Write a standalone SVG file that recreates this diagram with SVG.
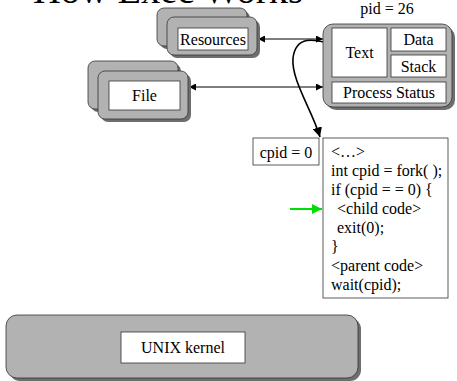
<svg xmlns="http://www.w3.org/2000/svg" width="457" height="381" viewBox="0 0 457 381">
  <style>
    text { font-family: "Liberation Serif", "Times New Roman", serif; font-size: 16px; fill: #000; }
    .mid { text-anchor: middle; }
    .panel { fill: #b2b2b2; stroke: #333; stroke-width: 0.8; }
    .shadow { fill: #6e6e6e; }
    .cell { fill: #fff; stroke: #333; stroke-width: 0.8; }
    .wire { fill: none; stroke: #000; stroke-width: 1; }
    .curve { fill: none; stroke: #000; stroke-width: 1.6; }
    .green { fill: none; stroke: #00e000; stroke-width: 2; }
  </style>
  <defs>
    <marker id="head" viewBox="0 0 10 10" refX="10" refY="5" markerWidth="7" markerHeight="7" orient="auto-start-reverse" markerUnits="userSpaceOnUse">
      <path d="M0,0 L10,5 L0,10 z" fill="#000"/>
    </marker>
    <marker id="headBig" viewBox="0 0 10 10" refX="10" refY="5" markerWidth="6" markerHeight="6" orient="auto" markerUnits="strokeWidth">
      <path d="M0,0 L10,5 L0,10 z" fill="#000"/>
    </marker>
    <marker id="headGreen" viewBox="0 0 10 10" refX="10" refY="5" markerWidth="5" markerHeight="5" orient="auto" markerUnits="strokeWidth">
      <path d="M0,0 L10,5 L0,10 z" fill="#00e000"/>
    </marker>
  </defs>

  <!-- title, mostly above the visible area -->
  <text id="title" x="33" y="3" style="font-size:38.5px">How Exec Works</text>

  <!-- connectors -->
  <g id="connectors">
    <line class="wire" x1="258" y1="39" x2="323" y2="39" marker-start="url(#head)" marker-end="url(#head)"/>
    <line class="wire" x1="189" y1="87" x2="323" y2="87" marker-start="url(#head)" marker-end="url(#head)"/>
    <path class="curve" d="M332,44 C314,39 296,35 293,58 C291,80 312,110 320,137" marker-end="url(#headBig)"/>
    <line class="green" x1="290" y1="209" x2="322" y2="209" marker-end="url(#headGreen)"/>
  </g>

  <!-- resources (stacked) -->
  <g id="resources">
    <rect class="shadow" x="160" y="11" width="90" height="38" rx="7"/>
    <rect class="panel" x="157" y="8" width="90" height="38" rx="7"/>
    <rect class="shadow" x="170" y="20" width="90" height="38" rx="7"/>
    <rect class="panel" x="167" y="17" width="90" height="38" rx="7"/>
    <rect class="cell" x="178" y="28" width="70" height="22"/>
    <text class="mid" x="213" y="45">Resources</text>
  </g>

  <!-- file (stacked) -->
  <g id="file">
    <rect class="shadow" x="91" y="64" width="90" height="48" rx="7"/>
    <rect class="panel" x="88" y="61" width="90" height="48" rx="7"/>
    <rect class="shadow" x="101" y="74" width="90" height="48" rx="7"/>
    <rect class="panel" x="98" y="71" width="90" height="48" rx="7"/>
    <rect class="cell" x="109" y="81" width="71" height="29"/>
    <text class="mid" x="144.5" y="101">File</text>
  </g>

  <!-- process image -->
  <g id="process">
    <text class="mid" x="387" y="14">pid = 26</text>
    <rect class="shadow" x="326" y="27" width="129" height="83" rx="10"/>
    <rect class="panel" x="323" y="24" width="129" height="83" rx="10"/>
    <rect class="cell" x="332" y="28" width="55" height="49"/>
    <text class="mid" x="359.5" y="58">Text</text>
    <rect class="cell" x="391" y="28" width="55" height="23"/>
    <text class="mid" x="418.5" y="45">Data</text>
    <rect class="cell" x="391" y="55" width="55" height="22"/>
    <text class="mid" x="418.5" y="72">Stack</text>
    <rect class="cell" x="332" y="82" width="114" height="21"/>
    <text class="mid" x="389" y="98">Process Status</text>
  </g>

  <!-- return value -->
  <g id="cpid">
    <rect class="cell" x="253" y="138" width="66" height="27"/>
    <text class="mid" x="286" y="158">cpid = 0</text>
  </g>

  <!-- program text -->
  <g id="code">
    <rect class="cell" x="323" y="138" width="125" height="160"/>
    <text x="331" y="157">&lt;…&gt;</text>
    <text x="331" y="176">int cpid = fork( );</text>
    <text x="331" y="195">if (cpid = = 0) {</text>
    <text x="337" y="214">&lt;child code&gt;</text>
    <text x="337" y="233">exit(0);</text>
    <text x="331" y="252">}</text>
    <text x="331" y="271">&lt;parent code&gt;</text>
    <text x="331" y="290">wait(cpid);</text>
  </g>

  <!-- kernel -->
  <g id="kernel">
    <rect class="shadow" x="9" y="318" width="352" height="63" rx="11"/>
    <rect class="panel" x="6" y="315" width="352" height="63" rx="11"/>
    <rect class="cell" x="121" y="332" width="124" height="31"/>
    <text class="mid" x="183" y="353">UNIX kernel</text>
  </g>
</svg>
